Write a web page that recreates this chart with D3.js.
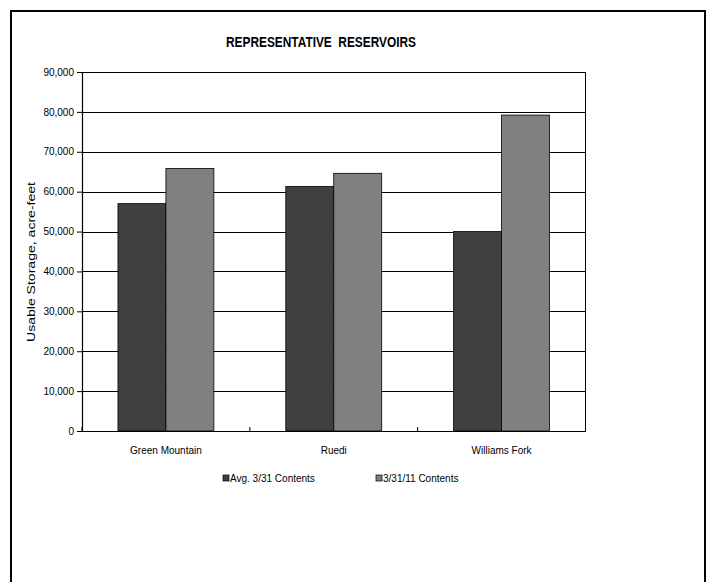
<!DOCTYPE html>
<html><head><meta charset="utf-8">
<script src="https://cdn.jsdelivr.net/npm/d3@7"></script>
<style>body{margin:0;background:#fff}svg{display:block}</style>
</head><body>
<script>
const categories = ["Green Mountain", "Ruedi", "Williams Fork"];
const seriesNames = ["Avg. 3/31 Contents", "3/31/11 Contents"];
const avgContents = [57000, 61300, 50000];
const contents2011 = [65800, 64600, 79200];
const yTicks = [0,10000,20000,30000,40000,50000,60000,70000,80000,90000];
const colors = ["#404040", "#808080"];

const W = 710, H = 582;
const svg = d3.select("body").append("svg").attr("width", W).attr("height", H);
const FONT = "Liberation Sans, Arial, sans-serif";

// outer border
svg.append("rect").attr("x", 11).attr("y", 11).attr("width", 694).attr("height", 600)
  .attr("fill", "none").attr("stroke", "#000").attr("stroke-width", 2);

const L = 82, R = 585.5, T = 72, B = 431;
const x = d3.scaleBand().domain(categories).range([L, R]).padding(0);
const x1 = d3.scaleBand().domain([0,1]).range([0, x.bandwidth()]).paddingInner(0).paddingOuter(0.75);
const y = d3.scaleLinear().domain([0, 90000]).range([B, T]);

// gridlines
svg.append("g").selectAll("line").data(yTicks.slice(1)).join("line")
  .attr("x1", L).attr("x2", R).attr("y1", d => Math.round(y(d)) + 0.5).attr("y2", d => Math.round(y(d)) + 0.5)
  .attr("stroke", "#000").attr("stroke-width", 1);
svg.append("line").attr("x1", R).attr("x2", R).attr("y1", T).attr("y2", B)
  .attr("stroke", "#000").attr("stroke-width", 1);

// bars
const data = categories.map((c, i) => ({c, vals: [avgContents[i], contents2011[i]]}));
const g = svg.append("g");
data.forEach(d => {
  d.vals.forEach((v, k) => {
    g.append("rect")
      .attr("x", x(d.c) + x1(k))
      .attr("y", y(v))
      .attr("width", x1.bandwidth())
      .attr("height", B - y(v))
      .attr("fill", colors[k])
      .attr("stroke", "#000").attr("stroke-width", 0.8);
  });
});

// y axis
const yAxis = d3.axisLeft(y).tickValues(yTicks).tickSize(5).tickPadding(3)
  .tickFormat(d3.format(","));
const ya = svg.append("g").attr("transform", `translate(${L},0)`).call(yAxis);
ya.select(".domain").attr("stroke", "#000").attr("stroke-width", 1.2);
ya.selectAll("text").attr("font-family", FONT).attr("font-size", 10).attr("fill", "#000");

// x axis
const xa = svg.append("g").attr("transform", `translate(0,${B})`)
  .call(d3.axisBottom(x).tickSize(0).tickPadding(16));
xa.select(".domain").attr("stroke", "#000").attr("stroke-width", 1.2);
xa.selectAll("text").attr("font-family", FONT).attr("font-size", 10).attr("fill", "#000");
const bounds = [L, ...categories.map(c => x(c) + x.bandwidth())];
svg.append("g").selectAll("line").data(bounds).join("line")
  .attr("x1", d => d).attr("x2", d => d).attr("y1", B - 4).attr("y2", B)
  .attr("stroke", "#000");

// title
svg.append("text").attr("x", 321).attr("y", 47).attr("text-anchor", "middle")
  .attr("font-family", FONT).attr("font-weight", "bold")
  .attr("font-size", 14.5).attr("fill", "#000").attr("xml:space", "preserve")
  .attr("textLength", 190).attr("lengthAdjust", "spacingAndGlyphs")
  .text("REPRESENTATIVE  RESERVOIRS");

// y label
svg.append("text").attr("transform", `translate(35,262) rotate(-90)`)
  .attr("text-anchor", "middle").attr("font-family", FONT)
  .attr("font-size", 11.5).attr("fill", "#000")
  .attr("textLength", 160).attr("lengthAdjust", "spacingAndGlyphs")
  .text("Usable Storage, acre-feet");

// legend
const legX = [223, 376];
seriesNames.forEach((n, k) => {
  svg.append("rect").attr("x", legX[k]).attr("y", 475).attr("width", 6).attr("height", 6)
    .attr("fill", colors[k]).attr("stroke", "#000").attr("stroke-width", 0.7);
  svg.append("text").attr("x", legX[k] + 7).attr("y", 482)
    .attr("font-family", FONT).attr("font-size", 10)
    .attr("fill", "#000").text(n);
});
</script>
</body></html>
